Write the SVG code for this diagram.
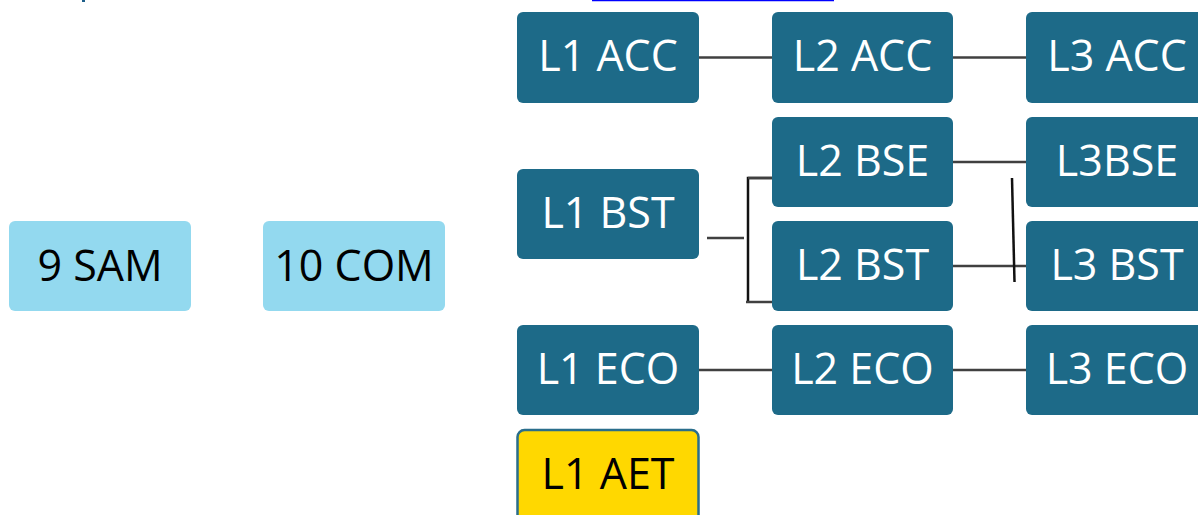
<svg xmlns="http://www.w3.org/2000/svg" width="1198" height="515" viewBox="0 0 1198 515">
<style>
.d{fill:#1D6A88}
.lb{fill:#93D9EF}
.y{fill:#FFD800;stroke:#2A6E8C;stroke-width:2.5}
.t{font-family:"Open Sans","Liberation Sans",sans-serif;font-size:43px;text-anchor:middle}
.w{fill:#FFFFFF}
.k{fill:#000000}
.c{stroke:#404040;stroke-width:2.5;fill:none}
.b{stroke:#111111;stroke-width:2.5;fill:none}
</style>
<rect width="1198" height="515" fill="#FFFFFF"/>
<line x1="592" y1="0.5" x2="834" y2="0.5" stroke="#0000FF" stroke-width="1.5"/>
<rect x="82" y="0" width="3" height="2" fill="#1D5F8A"/>
<g id="connectors">
<line class="c" x1="699" y1="57.5" x2="772" y2="57.5"/>
<line class="c" x1="953" y1="57.5" x2="1026" y2="57.5"/>
<line class="c" x1="953" y1="162" x2="1026" y2="162"/>
<line class="c" x1="953" y1="266" x2="1026" y2="266"/>
<line class="c" x1="699" y1="370" x2="772" y2="370"/>
<line class="c" x1="953" y1="370" x2="1026" y2="370"/>
<line class="c" x1="707" y1="238" x2="744" y2="238"/>
<polyline class="b" points="779,178 748,178 748,302"/>
<line class="c" x1="779" y1="178" x2="748" y2="178"/>
<line class="c" x1="746" y1="302" x2="777" y2="302"/>
<line class="b" x1="1012" y1="178" x2="1014.5" y2="282"/>
</g>
<g id="n9sam"><rect class="lb" x="9" y="221" width="182" height="90" rx="6"/><text class="t k" x="100" y="281">9 SAM</text></g>
<g id="n10com"><rect class="lb" x="263" y="221" width="182" height="90" rx="6"/><text class="t k" x="354" y="281">10 COM</text></g>
<g id="l1acc"><rect class="d" x="517" y="12" width="182" height="91" rx="6"/><text class="t w" x="608" y="71">L1 ACC</text></g>
<g id="l2acc"><rect class="d" x="772" y="12" width="181" height="91" rx="6"/><text class="t w" x="862.5" y="71">L2 ACC</text></g>
<g id="l3acc"><rect class="d" x="1026" y="12" width="182" height="91" rx="6"/><text class="t w" x="1117" y="71">L3 ACC</text></g>
<g id="l1bst"><rect class="d" x="517" y="169" width="182" height="90" rx="6"/><text class="t w" x="608" y="228">L1 BST</text></g>
<g id="l2bse"><rect class="d" x="772" y="117" width="181" height="90" rx="6"/><text class="t w" x="862.5" y="176">L2 BSE</text></g>
<g id="l3bse"><rect class="d" x="1026" y="117" width="182" height="90" rx="6"/><text class="t w" x="1117" y="176">L3BSE</text></g>
<g id="l2bst"><rect class="d" x="772" y="221" width="181" height="90" rx="6"/><text class="t w" x="862.5" y="280">L2 BST</text></g>
<g id="l3bst"><rect class="d" x="1026" y="221" width="182" height="90" rx="6"/><text class="t w" x="1117" y="280">L3 BST</text></g>
<g id="l1eco"><rect class="d" x="517" y="325" width="182" height="90" rx="6"/><text class="t w" x="608" y="384">L1 ECO</text></g>
<g id="l2eco"><rect class="d" x="772" y="325" width="181" height="90" rx="6"/><text class="t w" x="862.5" y="384">L2 ECO</text></g>
<g id="l3eco"><rect class="d" x="1026" y="325" width="182" height="90" rx="6"/><text class="t w" x="1117" y="384">L3 ECO</text></g>
<g id="l1aet"><rect class="y" x="517.5" y="430" width="181" height="92" rx="7"/><text class="t k" x="608" y="489">L1 AET</text></g>
</svg>
